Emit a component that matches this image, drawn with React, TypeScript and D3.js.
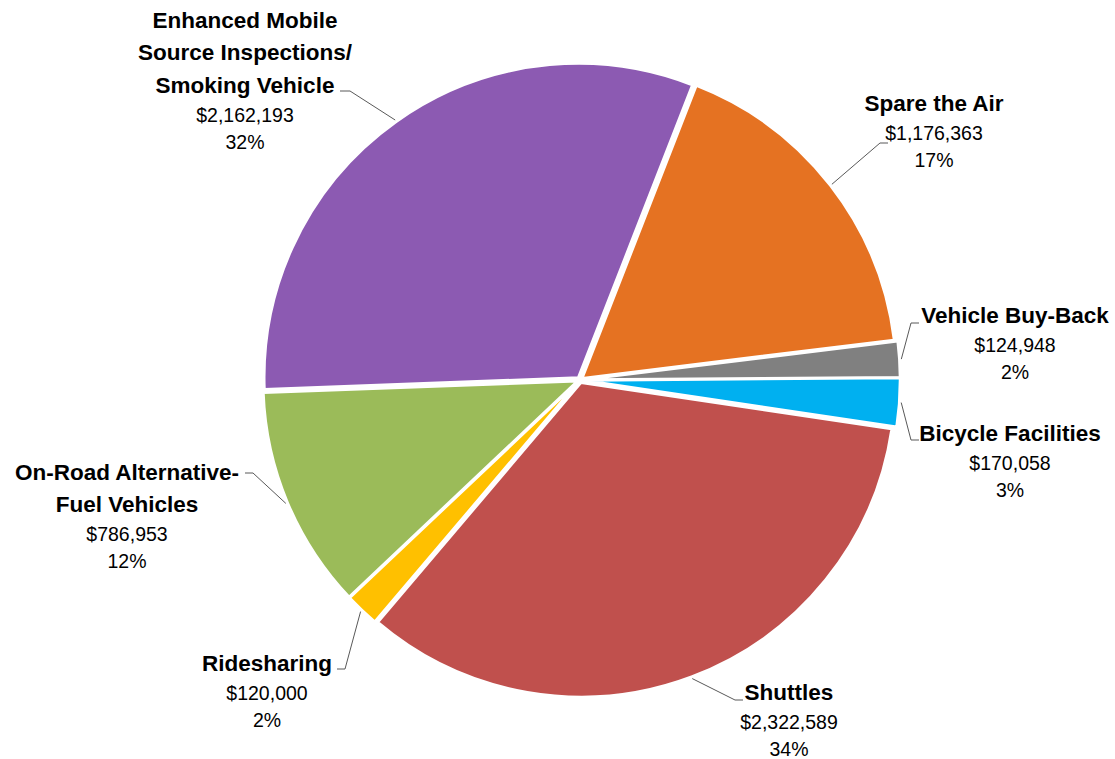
import React from "react";
import * as d3 from "d3";

const categories = [
  "Spare the Air",
  "Vehicle Buy-Back",
  "Bicycle Facilities",
  "Shuttles",
  "Ridesharing",
  "On-Road Alternative-Fuel Vehicles",
  "Enhanced Mobile Source Inspections/ Smoking Vehicle",
];
const values = [1176363, 124948, 170058, 2322589, 120000, 786953, 2162193];
const percentLabels = ["17%", "2%", "3%", "34%", "2%", "12%", "32%"];
const colors = ["#E57222", "#808080", "#00B0F0", "#C0504D", "#FFC000", "#9BBB59", "#8C5AB2"];
const labelLines = [
  ["Spare the Air"],
  ["Vehicle Buy-Back"],
  ["Bicycle Facilities"],
  ["Shuttles"],
  ["Ridesharing"],
  ["On-Road Alternative-", "Fuel Vehicles"],
  ["Enhanced Mobile", "Source Inspections/", "Smoking Vehicle"],
];

// layout (not data): label block center x, first line center y, leader elbow, leader end
const labelLayout = [
  { x: 934, y: 103, elbow: [880, 143], end: [888, 143] },
  { x: 1015, y: 315, elbow: [911, 323], end: [919, 323] },
  { x: 1010, y: 433, elbow: [911, 440], end: [919, 440] },
  { x: 789, y: 692, elbow: [735, 700], end: [743, 700] },
  { x: 267, y: 663, elbow: [345, 669], end: [337, 669] },
  { x: 127, y: 472, elbow: [253, 473], end: [245, 473] },
  { x: 245, y: 20, elbow: [350, 91], end: [340, 91] },
];
const explode = [3, 6, 6, 3, 3, 3, 3];

const W = 1115;
const H = 759;
const cx = 580;
const cy = 380;
const R = 314;
const startDeg = 21.3;

export default function App() {
  const pie = d3
    .pie<number>()
    .sort(null)
    .value((d) => d)
    .startAngle((startDeg * Math.PI) / 180)
    .endAngle((startDeg * Math.PI) / 180 + 2 * Math.PI);
  const arcs = pie(values);
  const arcGen = d3.arc<d3.PieArcDatum<number>>().innerRadius(0).outerRadius(R);
  const fmt = d3.format("$,");
  const font = "'Liberation Sans', Arial, sans-serif";

  return (
    <svg
      width={W}
      height={H}
      style={{ position: "absolute", left: 0, top: 0, background: "#fff" }}
      fontFamily={font}
    >
      <g transform={`translate(${cx},${cy})`}>
        {arcs.map((a, i) => {
          const mid = (a.startAngle + a.endAngle) / 2;
          const dx = Math.sin(mid) * explode[i];
          const dy = -Math.cos(mid) * explode[i];
          return (
            <path
              key={i}
              d={arcGen(a) || ""}
              transform={`translate(${dx},${dy})`}
              fill={colors[i]}
              stroke="#fff"
              strokeWidth={2.5}
              strokeLinejoin="round"
            />
          );
        })}
      </g>
      {arcs.map((a, i) => {
        const mid = (a.startAngle + a.endAngle) / 2;
        const r0 = R + explode[i] + 2;
        const sx = cx + Math.sin(mid) * r0;
        const sy = cy - Math.cos(mid) * r0;
        const L = labelLayout[i];
        return (
          <polyline
            key={"l" + i}
            points={`${sx},${sy} ${L.elbow[0]},${L.elbow[1]} ${L.end[0]},${L.end[1]}`}
            fill="none"
            stroke="#595959"
            strokeWidth={1}
          />
        );
      })}
      {arcs.map((a, i) => {
        const L = labelLayout[i];
        const lines = labelLines[i];
        const boldStep = 32.5;
        const lastBold = L.y + (lines.length - 1) * boldStep;
        return (
          <g key={"t" + i} textAnchor="middle" fill="#000">
            {lines.map((ln, j) => (
              <text
                key={j}
                x={L.x}
                y={L.y + j * boldStep}
                dominantBaseline="central"
                fontWeight="bold"
                fontSize={22.5}
              >
                {ln}
              </text>
            ))}
            <text x={L.x} y={lastBold + 29.5} dominantBaseline="central" fontSize={19.5}>
              {fmt(values[i])}
            </text>
            <text x={L.x} y={lastBold + 56.5} dominantBaseline="central" fontSize={19.5}>
              {percentLabels[i]}
            </text>
          </g>
        );
      })}
    </svg>
  );
}
